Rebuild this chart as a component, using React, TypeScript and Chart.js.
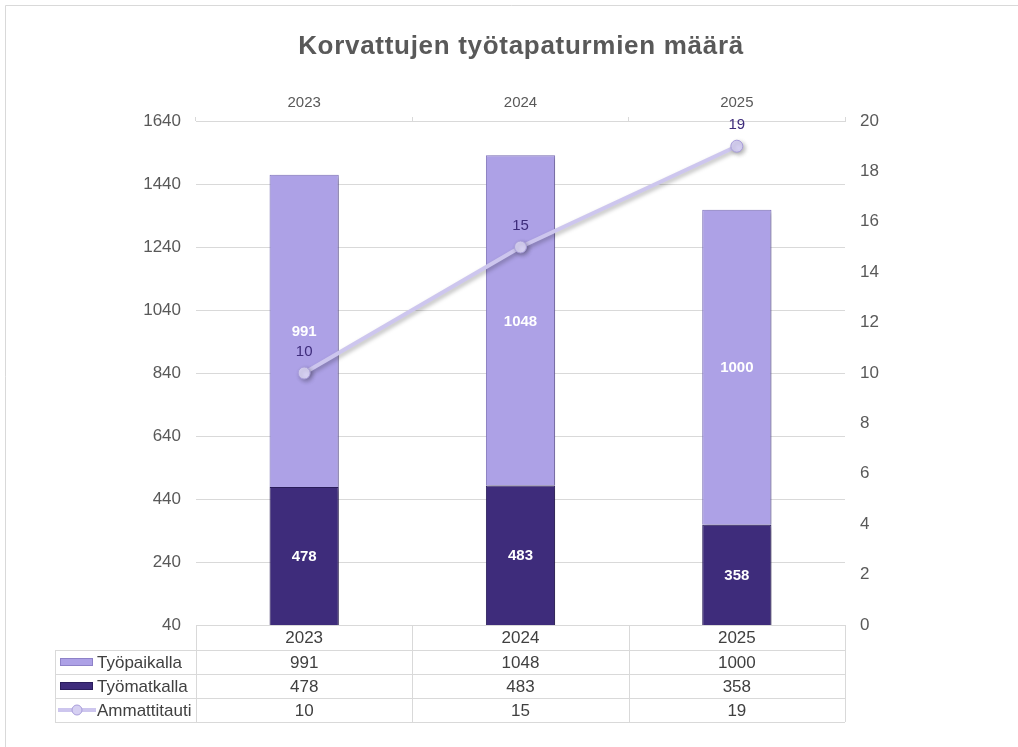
import React, { useEffect, useRef } from "react";
import { Chart, registerables } from "chart.js";

Chart.register(...registerables);

const TITLE = "Korvattujen työtapaturmien määrä";
const categories = ["2023", "2024", "2025"];
const tyopaikalla = [991, 1048, 1000];
const tyomatkalla = [478, 483, 358];
const ammattitauti = [10, 15, 19];
const seriesNames = ["Työpaikalla", "Työmatkalla", "Ammattitauti"];
const leftAxis = { min: 40, max: 1640, step: 200 };
const rightAxis = { min: 0, max: 20, step: 2 };

const LIGHT = "#ADA1E6";
const DARK = "#3E2C7B";
const LINE = "#CDC6EE";
const GRID = "#D9D9D9";
const TEXT = "#595959";
const FONT = "'Liberation Sans', Arial, sans-serif";

const decorPlugin = {
  id: "decor",
  beforeDraw(chart: any) {
    const ctx = chart.ctx;
    ctx.save();
    ctx.fillStyle = "#ffffff";
    ctx.fillRect(0, 0, chart.width, chart.height);
    ctx.strokeStyle = GRID;
    ctx.lineWidth = 1;
    ctx.beginPath();
    ctx.moveTo(5.5, chart.height);
    ctx.lineTo(5.5, 5.5);
    ctx.lineTo(chart.width, 5.5);
    ctx.stroke();
    ctx.restore();
  },
  beforeDatasetDraw(chart: any) {
    const ctx = chart.ctx;
    ctx.save();
    ctx.shadowColor = "rgba(0,0,0,0.28)";
    ctx.shadowBlur = 4;
    ctx.shadowOffsetX = 2;
    ctx.shadowOffsetY = 2;
  },
  afterDatasetDraw(chart: any) {
    chart.ctx.restore();
  },
  afterDraw(chart: any) {
    const ctx = chart.ctx;
    const area = chart.chartArea;
    ctx.save();
    // title
    ctx.fillStyle = TEXT;
    ctx.font = `bold 26px ${FONT}`;
    ctx.textAlign = "center";
    ctx.textBaseline = "middle";
    try {
      (ctx as any).letterSpacing = "0.7px";
    } catch (e) {}
    ctx.fillText(TITLE, 521, 47);
    try {
      (ctx as any).letterSpacing = "0px";
    } catch (e) {}

    // bar labels
    ctx.font = `bold 15px ${FONT}`;
    ctx.fillStyle = "#ffffff";
    [0, 1].forEach((di) => {
      const meta = chart.getDatasetMeta(di);
      meta.data.forEach((bar: any, i: number) => {
        const top = Math.max(bar.y, area.top);
        const bottom = Math.min(bar.base, area.bottom);
        const cy = (top + bottom) / 2;
        ctx.fillText(String(chart.data.datasets[di].data[i]), bar.x, cy + 1);
      });
    });
    // line labels
    ctx.font = `15px ${FONT}`;
    ctx.fillStyle = DARK;
    const lmeta = chart.getDatasetMeta(2);
    lmeta.data.forEach((pt: any, i: number) => {
      ctx.fillText(String(ammattitauti[i]), pt.x, pt.y - 21);
    });

    // data table
    const left = area.left;
    const right = area.right;
    const top = area.bottom;
    const colW = (right - left) / categories.length;
    const headH = 25;
    const rowH = 24;
    const legLeft = 55;
    ctx.strokeStyle = GRID;
    ctx.lineWidth = 1;
    ctx.beginPath();
    ctx.moveTo(left, top + 0.5);
    ctx.lineTo(right, top + 0.5);
    for (let r = 0; r <= 3; r++) {
      const y = Math.round(top + headH + r * rowH) + 0.5;
      ctx.moveTo(legLeft, y);
      ctx.lineTo(right, y);
    }
    const tableBottom = top + headH + 3 * rowH;
    for (let c = 0; c <= categories.length; c++) {
      const x = Math.round(left + c * colW) + 0.5;
      ctx.moveTo(x, top);
      ctx.lineTo(x, tableBottom);
    }
    ctx.moveTo(legLeft + 0.5, top + headH);
    ctx.lineTo(legLeft + 0.5, tableBottom);
    ctx.stroke();

    ctx.font = `17px ${FONT}`;
    ctx.fillStyle = "#404040";
    ctx.textAlign = "center";
    categories.forEach((c, i) => {
      ctx.fillText(c, left + colW * (i + 0.5), top + headH / 2 + 1);
    });
    const rows = [tyopaikalla, tyomatkalla, ammattitauti];
    rows.forEach((vals, r) => {
      const cy = top + headH + rowH * (r + 0.5) + 1;
      vals.forEach((v, i) => {
        ctx.fillText(String(v), left + colW * (i + 0.5), cy);
      });
    });
    // legend keys
    ctx.textAlign = "left";
    seriesNames.forEach((name, r) => {
      const cy = top + headH + rowH * (r + 0.5);
      if (r < 2) {
        ctx.fillStyle = r === 0 ? LIGHT : DARK;
        ctx.fillRect(60, cy - 4, 33, 8);
        ctx.strokeStyle = r === 0 ? "#8E82C8" : "#2A1D5C";
        ctx.strokeRect(60.5, cy - 3.5, 32, 7);
      } else {
        ctx.strokeStyle = LINE;
        ctx.lineWidth = 4;
        ctx.beginPath();
        ctx.moveTo(58, cy);
        ctx.lineTo(96, cy);
        ctx.stroke();
        ctx.lineWidth = 1;
        ctx.beginPath();
        ctx.arc(77, cy, 5, 0, Math.PI * 2);
        ctx.fillStyle = "#D6D0F2";
        ctx.fill();
        ctx.strokeStyle = "#A99EDB";
        ctx.stroke();
      }
      ctx.fillStyle = "#404040";
      ctx.fillText(name, 97, cy + 1);
    });
    ctx.restore();
  },
};

export default function App() {
  const ref = useRef<HTMLCanvasElement | null>(null);
  useEffect(() => {
    if (!ref.current) return;
    const chart = new Chart(ref.current, {
      type: "bar",
      data: {
        labels: categories,
        datasets: [
          {
            type: "bar",
            label: seriesNames[1],
            data: tyomatkalla,
            backgroundColor: DARK,
            borderColor: "#2A1D5C",
            borderWidth: 1,
            yAxisID: "y",
            xAxisID: "x",
            stack: "s",
            order: 1,
            categoryPercentage: 1,
            barPercentage: 0.32,
          },
          {
            type: "bar",
            label: seriesNames[0],
            data: tyopaikalla,
            backgroundColor: LIGHT,
            borderColor: "#8478C0",
            borderWidth: 1,
            yAxisID: "y",
            xAxisID: "x",
            stack: "s",
            order: 1,
            categoryPercentage: 1,
            barPercentage: 0.32,
          },
          {
            type: "line",
            label: seriesNames[2],
            data: ammattitauti,
            borderColor: LINE,
            borderWidth: 4,
            pointRadius: 6,
            pointBackgroundColor: "#D6D0F2",
            pointBorderColor: "#A99EDB",
            pointBorderWidth: 1,
            yAxisID: "y1",
            xAxisID: "x",
            order: 0,
          } as any,
        ],
      },
      options: {
        responsive: false,
        animation: false,
        layout: { padding: { left: 0, right: 0, top: 0, bottom: 122 } },
        plugins: {
          legend: { display: false },
          tooltip: { enabled: false },
          title: { display: false },
        },
        scales: {
          x: {
            position: "top",
            offset: true,
            stacked: true,
            grid: {
              offset: true,
              drawOnChartArea: false,
              drawTicks: true,
              tickLength: 4,
              color: GRID,
            },
            border: { display: true, color: GRID },
            ticks: {
              color: TEXT,
              font: { family: FONT, size: 15 },
              padding: 5,
            },
            afterFit(scale: any) {
              scale.height = 121;
            },
          },
          y: {
            position: "left",
            stacked: true,
            min: leftAxis.min,
            max: leftAxis.max,
            grid: { color: GRID, drawTicks: false },
            border: { display: false },
            ticks: {
              stepSize: leftAxis.step,
              color: TEXT,
              font: { family: FONT, size: 17 },
              padding: 15,
              callback: (v: any) => String(v),
            },
            afterFit(scale: any) {
              scale.width = 196;
            },
          },
          y1: {
            position: "right",
            min: rightAxis.min,
            max: rightAxis.max,
            grid: { display: false, drawTicks: false },
            border: { display: false },
            ticks: {
              stepSize: rightAxis.step,
              color: TEXT,
              font: { family: FONT, size: 17 },
              padding: 15,
              callback: (v: any) => String(v),
            },
            afterFit(scale: any) {
              scale.width = 173;
            },
          },
        },
      } as any,
      plugins: [decorPlugin],
    });
    return () => chart.destroy();
  }, []);
  return (
    <div style={{ position: "fixed", left: 0, top: 0, width: 1018, height: 747 }}>
      <canvas ref={ref} width={1018} height={747} style={{ width: 1018, height: 747 }} />
    </div>
  );
}
